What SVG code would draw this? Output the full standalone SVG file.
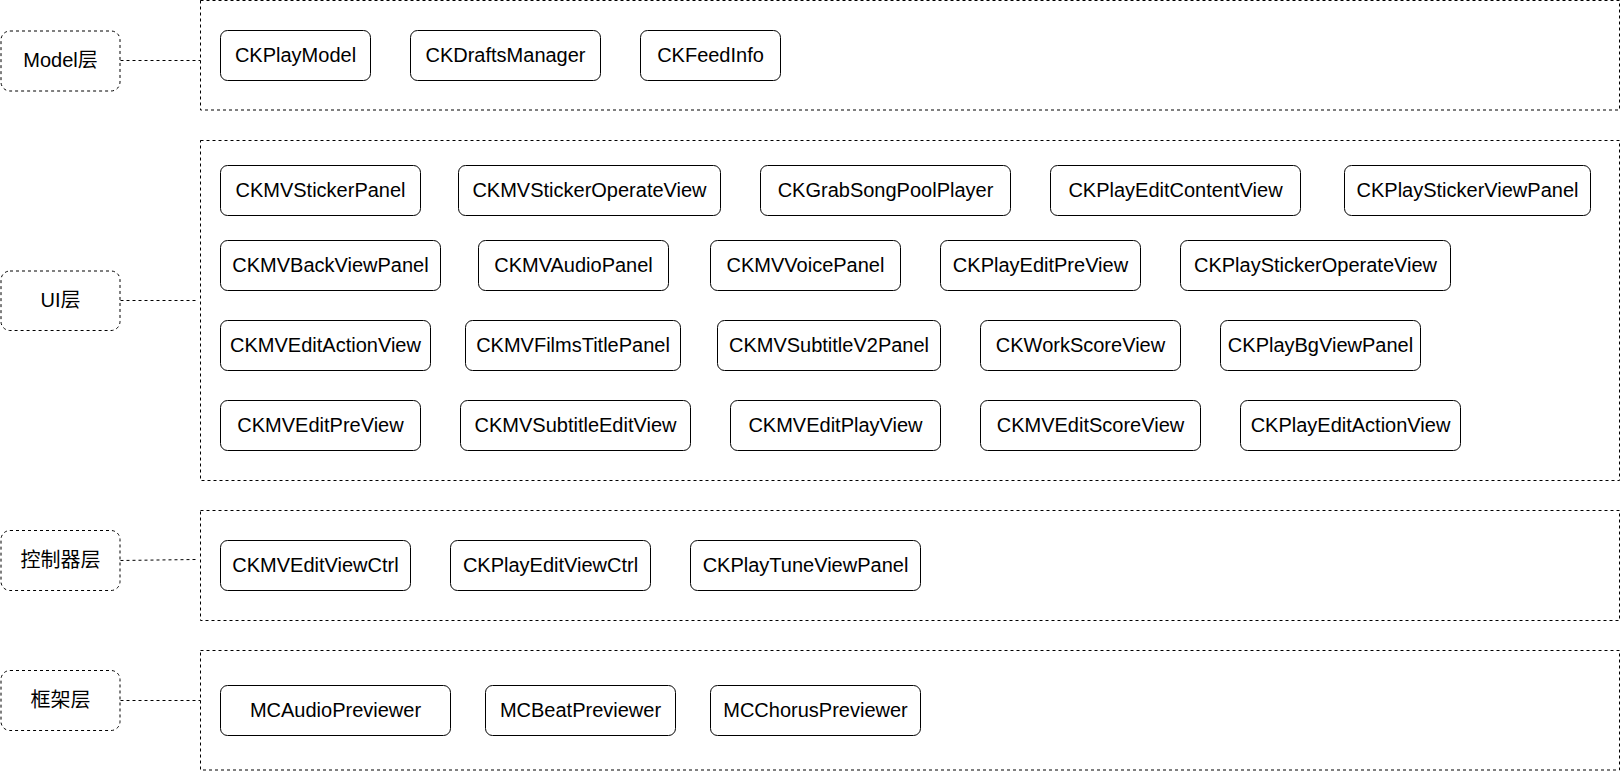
<svg xmlns="http://www.w3.org/2000/svg" width="1621" height="771" viewBox="0 0 1621 771">
<style>
.bg{fill:#ffffff}
.layer{fill:none;stroke:#000;stroke-width:1;stroke-dasharray:3 3}
.lbl{fill:#fff;stroke:#000;stroke-width:1;stroke-dasharray:3 3}
.node{fill:#fff;stroke:#000;stroke-width:1}
.conn{fill:none;stroke:#000;stroke-width:1;stroke-dasharray:3 3}
text{font-family:"Liberation Sans",Arial,"Noto Sans CJK SC",sans-serif;font-size:20px;fill:#000;text-anchor:middle}
</style>
<rect class="bg" x="0" y="0" width="1621" height="771"/>
<g id="containers">
<rect class="layer" x="200.5" y="0.5" width="1419" height="109.5"/>
<rect class="layer" x="200.5" y="140.5" width="1419" height="340"/>
<rect class="layer" x="200.5" y="510.5" width="1419" height="110"/>
<rect class="layer" x="200.5" y="650.5" width="1419" height="119.5"/>
</g>
<g id="connectors">
<line class="conn" x1="120.5" y1="60.5" x2="200.5" y2="60.5"/>
<line class="conn" x1="120.5" y1="300.5" x2="196" y2="300.5"/>
<line class="conn" x1="120.5" y1="560.5" x2="196" y2="559.5"/>
<line class="conn" x1="120.5" y1="700.5" x2="200.5" y2="700.5"/>
</g>
<g id="label-model"><rect class="lbl" x="1" y="31" width="119" height="60" rx="9"/><text x="60.5" y="67">Model层</text></g>
<g id="label-ui"><rect class="lbl" x="1" y="271" width="119" height="59.5" rx="9"/><text x="60.5" y="307">UI层</text></g>
<g id="label-ctrl"><rect class="lbl" x="1" y="530.5" width="119" height="60" rx="9"/><text x="60.5" y="567">控制器层</text></g>
<g id="label-fw"><rect class="lbl" x="1" y="670.5" width="119" height="60" rx="9"/><text x="60.5" y="707">框架层</text></g>

<g id="n-CKPlayModel"><rect class="node" x="220.5" y="30.5" width="150" height="50" rx="7"/><text x="295.5" y="62">CKPlayModel</text></g>
<g id="n-CKDraftsManager"><rect class="node" x="410.5" y="30.5" width="190" height="50" rx="7"/><text x="505.5" y="62">CKDraftsManager</text></g>
<g id="n-CKFeedInfo"><rect class="node" x="640.5" y="30.5" width="140" height="50" rx="7"/><text x="710.5" y="62">CKFeedInfo</text></g>

<g id="n-CKMVStickerPanel"><rect class="node" x="220.5" y="165.5" width="200" height="50" rx="7"/><text x="320.5" y="197">CKMVStickerPanel</text></g>
<g id="n-CKMVStickerOperateView"><rect class="node" x="458.5" y="165.5" width="262" height="50" rx="7"/><text x="589.5" y="197">CKMVStickerOperateView</text></g>
<g id="n-CKGrabSongPoolPlayer"><rect class="node" x="760.5" y="165.5" width="250" height="50" rx="7"/><text x="885.5" y="197">CKGrabSongPoolPlayer</text></g>
<g id="n-CKPlayEditContentView"><rect class="node" x="1050.5" y="165.5" width="250" height="50" rx="7"/><text x="1175.5" y="197">CKPlayEditContentView</text></g>
<g id="n-CKPlayStickerViewPanel"><rect class="node" x="1344.5" y="165.5" width="246" height="50" rx="7"/><text x="1467.5" y="197">CKPlayStickerViewPanel</text></g>

<g id="n-CKMVBackViewPanel"><rect class="node" x="220.5" y="240.5" width="220" height="50" rx="7"/><text x="330.5" y="272">CKMVBackViewPanel</text></g>
<g id="n-CKMVAudioPanel"><rect class="node" x="478.5" y="240.5" width="190" height="50" rx="7"/><text x="573.5" y="272">CKMVAudioPanel</text></g>
<g id="n-CKMVVoicePanel"><rect class="node" x="710.5" y="240.5" width="190" height="50" rx="7"/><text x="805.5" y="272">CKMVVoicePanel</text></g>
<g id="n-CKPlayEditPreView"><rect class="node" x="940.5" y="240.5" width="200" height="50" rx="7"/><text x="1040.5" y="272">CKPlayEditPreView</text></g>
<g id="n-CKPlayStickerOperateView"><rect class="node" x="1180.5" y="240.5" width="270" height="50" rx="7"/><text x="1315.5" y="272">CKPlayStickerOperateView</text></g>

<g id="n-CKMVEditActionView"><rect class="node" x="220.5" y="320.5" width="210" height="50" rx="7"/><text x="325.5" y="352">CKMVEditActionView</text></g>
<g id="n-CKMVFilmsTitlePanel"><rect class="node" x="465.5" y="320.5" width="215" height="50" rx="7"/><text x="573" y="352">CKMVFilmsTitlePanel</text></g>
<g id="n-CKMVSubtitleV2Panel"><rect class="node" x="717.5" y="320.5" width="223" height="50" rx="7"/><text x="829" y="352">CKMVSubtitleV2Panel</text></g>
<g id="n-CKWorkScoreView"><rect class="node" x="980.5" y="320.5" width="200" height="50" rx="7"/><text x="1080.5" y="352">CKWorkScoreView</text></g>
<g id="n-CKPlayBgViewPanel"><rect class="node" x="1220.5" y="320.5" width="200" height="50" rx="7"/><text x="1320.5" y="352">CKPlayBgViewPanel</text></g>

<g id="n-CKMVEditPreView"><rect class="node" x="220.5" y="400.5" width="200" height="50" rx="7"/><text x="320.5" y="432">CKMVEditPreView</text></g>
<g id="n-CKMVSubtitleEditView"><rect class="node" x="460.5" y="400.5" width="230" height="50" rx="7"/><text x="575.5" y="432">CKMVSubtitleEditView</text></g>
<g id="n-CKMVEditPlayView"><rect class="node" x="730.5" y="400.5" width="210" height="50" rx="7"/><text x="835.5" y="432">CKMVEditPlayView</text></g>
<g id="n-CKMVEditScoreView"><rect class="node" x="980.5" y="400.5" width="220" height="50" rx="7"/><text x="1090.5" y="432">CKMVEditScoreView</text></g>
<g id="n-CKPlayEditActionView"><rect class="node" x="1240.5" y="400.5" width="220" height="50" rx="7"/><text x="1350.5" y="432">CKPlayEditActionView</text></g>

<g id="n-CKMVEditViewCtrl"><rect class="node" x="220.5" y="540.5" width="190" height="50" rx="7"/><text x="315.5" y="572">CKMVEditViewCtrl</text></g>
<g id="n-CKPlayEditViewCtrl"><rect class="node" x="450.5" y="540.5" width="200" height="50" rx="7"/><text x="550.5" y="572">CKPlayEditViewCtrl</text></g>
<g id="n-CKPlayTuneViewPanel"><rect class="node" x="690.5" y="540.5" width="230" height="50" rx="7"/><text x="805.5" y="572">CKPlayTuneViewPanel</text></g>

<g id="n-MCAudioPreviewer"><rect class="node" x="220.5" y="685.5" width="230" height="50" rx="7"/><text x="335.5" y="717">MCAudioPreviewer</text></g>
<g id="n-MCBeatPreviewer"><rect class="node" x="485.5" y="685.5" width="190" height="50" rx="7"/><text x="580.5" y="717">MCBeatPreviewer</text></g>
<g id="n-MCChorusPreviewer"><rect class="node" x="710.5" y="685.5" width="210" height="50" rx="7"/><text x="815.5" y="717">MCChorusPreviewer</text></g>
</svg>
